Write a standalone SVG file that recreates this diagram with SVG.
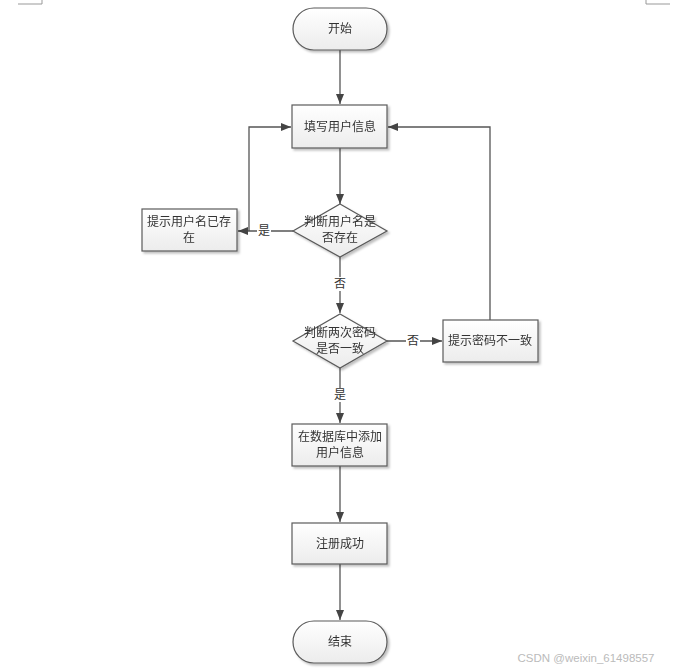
<svg xmlns="http://www.w3.org/2000/svg" width="674" height="671" viewBox="0 0 674 671">
<style>
.shape{fill:url(#g);stroke:#5a5a5a;stroke-width:1.2}
.t{font-family:"Liberation Serif","Noto Sans CJK SC",serif;font-size:12px;fill:#333;text-anchor:middle;dominant-baseline:central}
.lbl{font-family:"Liberation Serif","Noto Sans CJK SC",serif;font-size:12px;fill:#333;text-anchor:middle;dominant-baseline:central}
.c{fill:none;stroke:#555;stroke-width:1.3}
.mark{fill:none;stroke:#999;stroke-width:1}
</style>
<defs>
<linearGradient id="g" x1="0" y1="0" x2="0" y2="1">
<stop offset="0" stop-color="#ffffff"/>
<stop offset="1" stop-color="#ececec"/>
</linearGradient>
<filter id="sh" x="-10%" y="-10%" width="130%" height="140%">
<feDropShadow dx="2" dy="2" stdDeviation="1" flood-color="#000" flood-opacity="0.25"/>
</filter>
<marker id="a" viewBox="0 0 10 10" refX="10" refY="5" markerWidth="10" markerHeight="10" markerUnits="userSpaceOnUse" orient="auto">
<path d="M0,1 L10,5 L0,9 Z" fill="#444"/>
</marker>
</defs>
<rect width="674" height="671" fill="#fff"/>
<path class="mark" d="M18,4 H42 V0"/>
<path class="mark" d="M646,0 V4 H670"/>
<g id="connectors">
<path class="c" d="M340,50 V104" marker-end="url(#a)"/>
<path class="c" d="M340,148 V204" marker-end="url(#a)"/>
<path class="c" d="M293,231 H238" marker-end="url(#a)"/>
<path class="c" d="M249,231 V127 H291" marker-end="url(#a)"/>
<path class="c" d="M340,257 V313" marker-end="url(#a)"/>
<path class="c" d="M387,341 H442" marker-end="url(#a)"/>
<path class="c" d="M490,320 V127 H388" marker-end="url(#a)"/>
<path class="c" d="M340,368 V423" marker-end="url(#a)"/>
<path class="c" d="M340,466 V522" marker-end="url(#a)"/>
<path class="c" d="M340,564 V620" marker-end="url(#a)"/>
<rect x="257" y="224" width="14" height="14" fill="#fff"/>
<text class="lbl" x="264" y="231">是</text>
<rect x="333" y="277" width="14" height="14" fill="#fff"/>
<text class="lbl" x="340" y="284">否</text>
<rect x="406" y="334" width="14" height="14" fill="#fff"/>
<text class="lbl" x="413" y="341">否</text>
<rect x="333" y="388" width="14" height="14" fill="#fff"/>
<text class="lbl" x="340" y="395">是</text>
</g>
<g id="start" filter="url(#sh)">
<rect class="shape" x="293" y="8" width="94" height="42" rx="21"/>
<text class="t" x="340" y="29">开始</text>
</g>
<g id="fill" filter="url(#sh)">
<rect class="shape" x="292" y="105" width="95" height="43"/>
<text class="t" x="340" y="127">填写用户信息</text>
</g>
<g id="check-name" filter="url(#sh)">
<polygon class="shape" points="340,204 387,231 340,257 293,231"/>
<text class="t" x="340" y="222">判断用户名是</text>
<text class="t" x="340" y="238">否存在</text>
</g>
<g id="name-exists" filter="url(#sh)">
<rect class="shape" x="142" y="209" width="95" height="42"/>
<text class="t" x="189" y="222">提示用户名已存</text>
<text class="t" x="189" y="238">在</text>
</g>
<g id="check-pwd" filter="url(#sh)">
<polygon class="shape" points="340,314 387,341 340,368 293,341"/>
<text class="t" x="340" y="333">判断两次密码</text>
<text class="t" x="340" y="349">是否一致</text>
</g>
<g id="pwd-mismatch" filter="url(#sh)">
<rect class="shape" x="443" y="320" width="95" height="42"/>
<text class="t" x="490" y="341">提示密码不一致</text>
</g>
<g id="add-db" filter="url(#sh)">
<rect class="shape" x="292" y="424" width="95" height="42"/>
<text class="t" x="340" y="437">在数据库中添加</text>
<text class="t" x="340" y="453">用户信息</text>
</g>
<g id="success" filter="url(#sh)">
<rect class="shape" x="292" y="523" width="95" height="41"/>
<text class="t" x="340" y="544">注册成功</text>
</g>
<g id="end" filter="url(#sh)">
<rect class="shape" x="293" y="621" width="94" height="42" rx="21"/>
<text class="t" x="340" y="642">结束</text>
</g>
<text x="586" y="658" font-family="Liberation Sans, sans-serif" font-size="11.5px" fill="#bbb" text-anchor="middle" dominant-baseline="central">CSDN @weixin_61498557</text>
</svg>
